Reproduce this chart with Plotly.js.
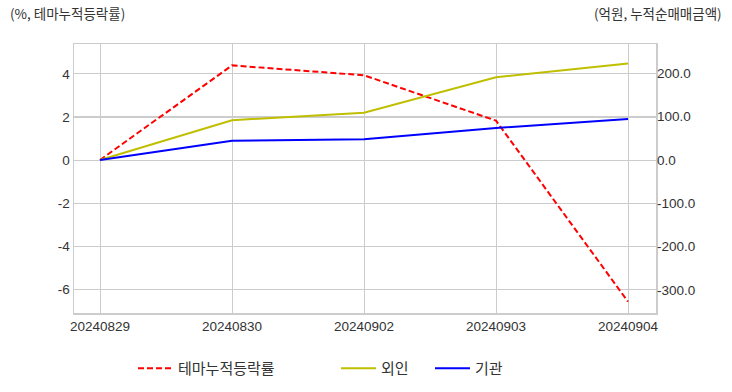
<!DOCTYPE html>
<html>
<head>
<meta charset="utf-8">
<script src="https://cdn.plot.ly/plotly-3.0.1.min.js"></script>
<style>html,body{margin:0;padding:0;background:#fff;}#chart{width:732px;height:392px;}</style>
</head>
<body>
<div id="chart"></div>
<script>
const dates = ["20240829", "20240830", "20240902", "20240903", "20240904"];
const themeReturn = [0, 4.40, 3.94, 1.83, -6.59];
const foreign = [0, 92, 109, 191, 223];
const institution = [0, 44.6, 47.8, 74, 94.7];
const leftTicks = [-6, -4, -2, 0, 2, 4];
const leftTickText = ["-6", "-4", "-2", "0", "2", "4"];
const rightTicks = [-300, -200, -100, 0, 100, 200];
const rightTickText = ["-300.0", "-200.0", "-100.0", "0.0", "100.0", "200.0"];
const names = ["테마누적등락률", "외인", "기관"];

const W = 732;
const tickFont = {family: "Liberation Sans, Arial, sans-serif", size: 13.5, color: "#333"};
const krFont = {family: "Noto Sans CJK KR, Noto Sans, sans-serif", size: 13.5, color: "#333"};

const traces = [
  {x: dates, y: themeReturn, name: names[0], type: "scatter", mode: "lines", yaxis: "y",
   line: {color: "#ff0000", width: 2, dash: "6px,3px"}, legend: "legend"},
  {x: dates, y: foreign, name: names[1], type: "scatter", mode: "lines", yaxis: "y2",
   line: {color: "#bfbf00", width: 2}, legend: "legend2"},
  {x: dates, y: institution, name: names[2], type: "scatter", mode: "lines", yaxis: "y2",
   line: {color: "#0000ff", width: 2}, legend: "legend3"}
];

function leg(px) {
  return {x: px / W, xref: "container", y: 0.06, yref: "container", xanchor: "left", yanchor: "middle",
    orientation: "h", itemwidth: 35, bgcolor: "rgba(0,0,0,0)",
    font: {family: krFont.family, size: 15, color: "#333"}};
}

const layout = {
  width: 732, height: 392,
  margin: {l: 74, r: 76, t: 44, b: 79},
  paper_bgcolor: "#fff", plot_bgcolor: "#fff",
  showlegend: true,
  legend: leg(133), legend2: leg(336), legend3: leg(430),
  xaxis: {type: "category", range: [-0.197, 4.212], showgrid: true, gridcolor: "#cccccc", gridwidth: 1,
    showline: true, linecolor: "#cccccc", linewidth: 1.5, mirror: true, ticks: "", tickfont: tickFont,
    zeroline: false, fixedrange: true},
  yaxis: {range: [-7.116, 5.395], tickvals: leftTicks, ticktext: leftTickText, showgrid: true,
    gridcolor: "#cccccc", gridwidth: 1, zeroline: false, showline: true, linecolor: "#cccccc",
    linewidth: 1.5, mirror: true, ticks: "", tickfont: tickFont},
  yaxis2: {overlaying: "y", side: "right", range: [-353.3, 267.9], tickvals: rightTicks,
    ticktext: rightTickText, showgrid: true, gridcolor: "#cccccc", gridwidth: 1, zeroline: false,
    showline: false, ticks: "", tickfont: tickFont},
  annotations: [
    {text: "(%, 테마누적등락률)", xref: "paper", yref: "paper", x: -74 / 582, y: 1,
     xanchor: "left", yanchor: "bottom", yshift: 19, xshift: 8, showarrow: false, font: krFont},
    {text: "(억원, 누적순매매금액)", xref: "paper", yref: "paper", x: 1 + 76 / 582, y: 1,
     xanchor: "right", yanchor: "bottom", yshift: 19, xshift: -8, showarrow: false, font: krFont}
  ]
};

Plotly.newPlot("chart", traces, layout, {staticPlot: true, displayModeBar: false});
</script>
</body>
</html>
